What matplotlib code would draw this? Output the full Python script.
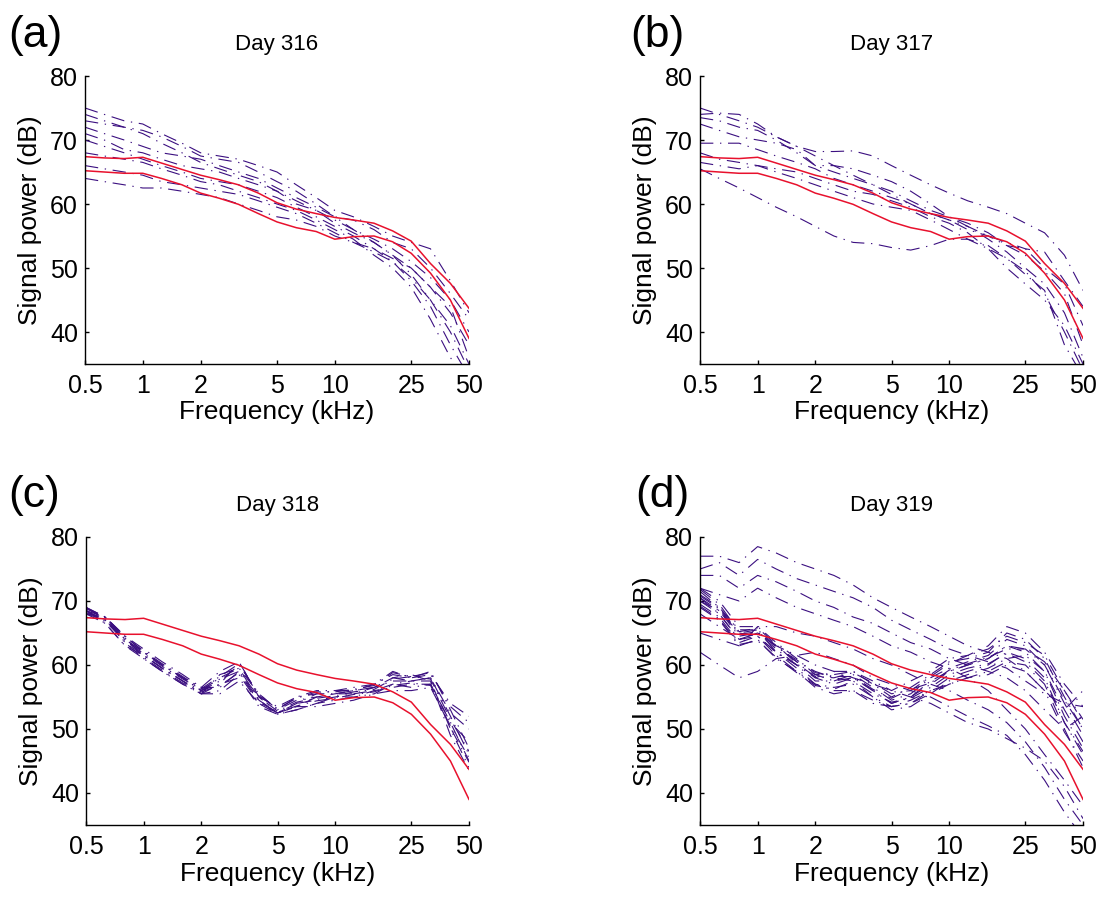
import numpy as np
import matplotlib.pyplot as plt

# third-octave band centre frequencies (kHz)
freq = [0.5, 0.63, 0.8, 1, 1.25, 1.6, 2, 2.5, 3.15, 4, 5, 6.3, 8, 10,
        12.5, 16, 20, 25, 31.5, 40, 50]

# red reference envelope (same in every panel)
ref_upper = [67.4, 67.2, 67.1, 67.3, 66.4, 65.4, 64.5, 63.8, 63.0, 61.7, 60.2,
             59.2, 58.5, 57.9, 57.5, 57.0, 55.8, 54.2, 50.7, 47.6, 43.7]
ref_lower = [65.2, 65.0, 64.8, 64.8, 64.0, 63.0, 61.7, 60.9, 59.95, 58.5, 57.2,
             56.3, 55.7, 54.5, 54.9, 55.0, 54.1, 52.3, 49.2, 45.0, 39.0]

day316 = [
    [75, 74, 73, 72.5, 71, 69.5, 68, 67.5, 67, 66, 65, 63, 61, 59, 58, 56.5, 55, 54, 53, 48, 43],
    [73, 72.5, 72, 71.5, 70.5, 69, 67.5, 67, 66.5, 65, 63.5, 62, 60, 58, 57.5, 56, 54, 53, 50, 46, 42],
    [72, 71, 70, 69, 68, 67.5, 67, 66, 65, 64, 62.5, 61, 59.5, 58, 56, 54, 52, 50, 47, 44, 36],
    [71, 70, 68.5, 68, 67, 66, 65.5, 65, 64, 63, 62, 60, 59, 57, 55.5, 54, 52, 49, 45, 40, 34],
    [70, 69, 68, 67, 66, 65, 64, 63.5, 63, 62, 61, 59.5, 58, 56.5, 55, 53, 51, 48, 44, 38, 33],
    [68, 67.5, 67, 66.5, 65.5, 64.5, 63.5, 63, 62, 61, 60, 59, 57.5, 56, 54.5, 52, 50, 47, 42, 36, 32],
    [66, 65.5, 65, 64.5, 63.5, 63, 62.5, 62, 61.5, 60.5, 59.5, 58.5, 57, 55.5, 54, 52.5, 51, 48.5, 45, 41, 35],
    [64, 63.5, 63, 62.5, 62.5, 62, 61.5, 61, 60, 59, 58, 57.5, 56.5, 55, 54, 53, 51.5, 50, 47, 43, 38],
    [74, 73, 72, 71, 69.5, 68, 66.5, 65.5, 64.5, 63.5, 62, 60.5, 59, 57.5, 56, 54.5, 53, 51, 48.5, 45, 40],
]

day317 = [
    [74, 74.2, 74, 72.5, 70.5, 69, 68.2, 68.2, 68.3, 67.5, 66, 64.5, 63, 61.7, 60.5, 59.5, 58.5, 57, 55.5, 52, 46.5],
    [73.5, 73, 72, 71.5, 70, 68, 66, 65, 64, 63, 62, 60.5, 59, 58, 57, 55.5, 53.5, 52, 49.5, 46, 38],
    [72.5, 71.5, 70.5, 70, 69.5, 68.5, 66, 66, 65.5, 64.5, 63.5, 62, 60, 58, 56.5, 54.5, 52.5, 50, 47.5, 43, 36],
    [69.5, 69.5, 69.5, 68.5, 67.5, 66.5, 65.5, 64, 63, 62, 61, 60, 58.5, 57.5, 56.5, 55, 54, 53, 52.5, 48, 44],
    [68, 67, 66.5, 66, 65.5, 65, 64, 63, 62, 61.5, 60.5, 59.5, 58, 57, 55.5, 53, 50, 47.5, 45, 41, 35],
    [66.5, 66, 65.5, 66, 65, 64, 63, 62, 61, 60, 59.5, 59, 57.5, 56, 54.5, 53, 51.5, 49, 46.5, 38, 33],
    [65.5, 64, 62.5, 61, 59.5, 58, 56.5, 55, 54, 53.8, 53.2, 52.8, 53.5, 54.5, 54.5, 53.5, 51.5, 49.5, 46, 40, 34],
    [75, 74, 73, 72, 70.5, 69, 67.5, 66, 64.5, 63, 61.5, 60, 58.5, 57.5, 56, 55, 53.5, 53, 50, 47.5, 41],
]

day318 = [
    [69, 67.5, 64.5, 62, 60, 58, 56, 57, 60.5, 55, 52.5, 54, 54.5, 55, 55.5, 56, 57, 57.5, 58, 52, 46],
    [68.5, 67, 64, 61.5, 59.5, 57.5, 55.5, 58.5, 59.5, 54.5, 52.5, 53.5, 55, 55.5, 56, 56.5, 58, 58.5, 57.5, 50, 44],
    [68, 67.5, 63.5, 61, 59, 57, 55.5, 56, 58.5, 54, 52.3, 53, 54, 54.5, 55, 56, 56.5, 57, 57, 51, 45],
    [68.5, 66.5, 63, 61.5, 59.5, 57.5, 56, 57.5, 60, 55.5, 53, 55, 56, 56, 56.5, 57, 59, 58, 58.5, 54, 52],
    [69, 67, 64, 62, 60, 58, 56.5, 56.5, 59, 54.5, 52.5, 54, 55.5, 55.5, 55.5, 56.5, 57.5, 57.5, 57.5, 49, 43.5],
    [68, 66.5, 63, 61, 59, 57, 55.5, 55.5, 57.5, 54, 52.5, 53.5, 53.5, 54, 54.5, 55.5, 56, 56, 56.5, 50.5, 45.5],
    [68.5, 67.5, 64.5, 62.5, 60.5, 58.5, 56.5, 59, 60.5, 55, 53.5, 55, 55.5, 56, 56, 57, 58.5, 58, 59, 53, 47],
    [68, 67, 63.5, 61.5, 59.5, 57.5, 55.5, 57, 58, 53.5, 52.3, 53, 54, 55, 55, 55.5, 57, 56.5, 57, 51, 48],
    [69, 67.5, 64, 62, 60, 58, 56, 58, 59.5, 55.5, 53, 54.5, 55, 55.5, 56, 56.5, 58, 57.5, 58, 52.5, 50],
    [68.5, 66.8, 63.8, 61.8, 59.8, 57.8, 56.2, 57.8, 59, 55, 52.8, 54.2, 54.8, 55.2, 55.8, 56.2, 57.8, 58.2, 57.8, 51.5, 46.5],
    [68.2, 67.2, 64.2, 61.2, 59.2, 57.2, 55.8, 56.8, 58.8, 54.2, 52.6, 53.6, 54.4, 54.8, 55.4, 55.8, 56.8, 57.2, 56.8, 50.2, 44.8],
    [68.8, 67.4, 64.4, 62.2, 60.2, 58.2, 56.3, 58.2, 60.2, 55.2, 53.2, 54.8, 55.8, 55.8, 56.2, 56.8, 58.8, 58.2, 58.8, 53.5, 51],
]

day319 = [
    [71, 69, 65, 64.5, 62, 60, 58, 57, 58, 56, 54, 55, 57, 59, 60, 61, 63, 62, 59, 53, 48],
    [70, 68, 64, 65, 63, 60.5, 59, 58, 57.5, 55, 53.5, 54, 56, 58, 59, 60, 62, 61, 58, 51, 46],
    [72, 70, 66, 66, 63.5, 61, 58.5, 58.5, 59, 57, 55, 56.5, 58.5, 60.5, 61, 62, 65, 64, 61, 55, 50],
    [69, 67, 63, 64, 61, 59, 57, 56, 56, 54.5, 53.5, 54, 55.5, 57, 58, 59, 60.5, 60, 57, 50, 44],
    [70.5, 68.5, 64.5, 65, 62.5, 60, 57.5, 57.5, 58.5, 56.5, 54.5, 55.5, 58, 59.5, 60.5, 61.5, 64, 63, 60, 54, 49],
    [71.5, 69, 65.5, 65.5, 63, 60.5, 58, 59, 59, 57.5, 56, 57.5, 59, 61, 61.5, 63, 66, 65, 62, 57, 53.5],
    [69.5, 67.5, 63.5, 64.5, 62, 59.5, 57, 56.5, 57, 55, 53, 53.5, 55.5, 57.5, 58.5, 59.5, 61, 61.5, 59, 52, 47],
    [70, 68.5, 65, 65.5, 62, 60, 58.5, 57.5, 58, 56, 54, 55, 57.5, 59, 60, 61, 63, 62.5, 60.5, 56, 51],
    [70.5, 68, 64, 64.5, 61.5, 59, 56.5, 55.5, 56, 54, 53.5, 54.5, 56, 57, 58, 58.5, 60, 59, 56, 49.5, 45],
    [71.8, 69.5, 65.2, 65.8, 63.2, 60.2, 58.2, 58, 58.8, 57.2, 55.5, 56, 58.2, 60.2, 61.5, 62.5, 64.5, 63.5, 61.5, 56, 51.5],
    [69.2, 67.2, 63.2, 63.8, 61.2, 58.8, 56.8, 56.2, 57.5, 55.5, 54.2, 54.8, 56.5, 58.5, 59.5, 60.2, 61.8, 60.5, 57.5, 51, 46.5],
    [70.8, 68.8, 64.8, 65.2, 62.8, 60.8, 58.8, 58.2, 58.2, 56.2, 54.8, 56.2, 57.2, 59.2, 60.2, 61.2, 62.5, 62.5, 60, 54.5, 50],
    [77, 77, 76, 78.5, 77.5, 76, 75, 74, 72.5, 70.5, 69, 67.5, 66, 64.5, 63, 62, 61, 59, 56, 53, 56],
    [75, 76, 74, 76.5, 75, 73.5, 72.5, 71.5, 70.5, 69, 67, 65.5, 64, 62.5, 61.5, 60.5, 59.5, 57.5, 55.5, 54, 53.5],
    [74, 74, 72, 74, 73, 71.5, 70, 69, 67.5, 66.5, 65, 63.5, 62.5, 61, 60, 59, 58, 56, 53, 50, 52],
    [72, 71, 70, 72, 70.5, 69, 68, 67, 66, 64.5, 63, 62, 60.5, 59.5, 58, 56, 53, 50, 46, 42, 38],
    [65, 64, 63, 66, 66, 65, 64.5, 63.5, 62.5, 61, 60, 58.5, 57, 56, 54.5, 53, 51, 48, 44, 39, 35],
    [62, 60, 58, 59, 61, 61.5, 62, 61, 60, 58, 57, 56, 55, 53.5, 52, 50.5, 49, 46, 42, 37, 33],
    [68, 66, 64, 65, 63, 61.5, 60, 59, 58, 57, 56, 55, 54, 52.5, 51, 50, 48.5, 47, 45, 41, 36],
]

panels = [("(a)", "Day 316", day316), ("(b)", "Day 317", day317),
          ("(c)", "Day 318", day318), ("(d)", "Day 319", day319)]

plt.rcParams['font.family'] = ['Liberation Sans', 'DejaVu Sans']

W, H = 1103, 898
fig = plt.figure(figsize=(W / 100, H / 100), dpi=100)

# axes boxes in pixels: left, top, right, bottom
boxes = [(85, 76, 469, 364), (700, 76, 1083, 364),
         (86, 537, 469, 825), (700, 537, 1083, 825)]
label_x = [8, 630, 8, 635]

purple = '#3b0f80'
dashdot = (0, (12, 6, 1.2, 6))

for (tag, title, curves), (l, t, r, b), lx in zip(panels, boxes, label_x):
    ax = fig.add_axes([l / W, 1 - b / H, (r - l) / W, (b - t) / H])
    for c in curves:
        ax.plot(freq, c, color=purple, lw=0.8, linestyle=dashdot)
    ax.plot(freq, ref_upper, color='#e8112d', lw=1.1)
    ax.plot(freq, ref_lower, color='#e8112d', lw=1.1)

    ax.set_xscale('log')
    ax.set_xlim(0.5, 50)
    ax.set_ylim(35, 80)
    ax.set_xticks([0.5, 1, 2, 5, 10, 25, 50])
    ax.set_xticklabels(['0.5', '1', '2', '5', '10', '25', '50'])
    ax.xaxis.set_minor_locator(plt.NullLocator())
    ax.set_yticks([40, 50, 60, 70, 80])
    ax.tick_params(direction='in', length=3, width=1, labelsize=18)
    ax.tick_params(axis='x', pad=7)
    ax.tick_params(axis='y', pad=5)
    for s in ['top', 'right']:
        ax.spines[s].set_visible(False)
    for s in ['left', 'bottom']:
        ax.spines[s].set_linewidth(1)

    ax.set_xlabel('Frequency (kHz)', fontsize=19, labelpad=2)
    ax.set_ylabel('Signal power (dB)', fontsize=19, labelpad=6)
    ax.set_title(title, fontsize=16, pad=19)

    fig.text(lx / W, 1 - (t - 41) / H, tag, fontsize=32, ha='left', va='center')

fig.savefig('out.png', dpi=100)
